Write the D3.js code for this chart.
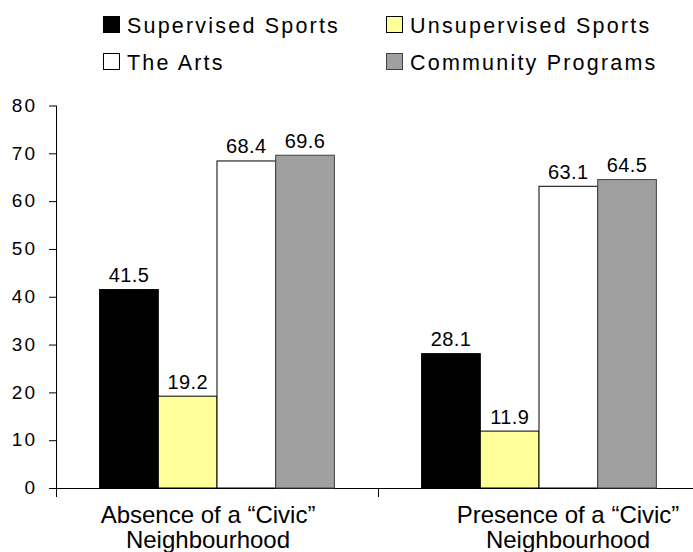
<!DOCTYPE html>
<html>
<head>
<meta charset="utf-8">
<script src="https://cdn.jsdelivr.net/npm/d3@7"></script>
<style>
  html, body { margin: 0; padding: 0; background: #fff; }
  svg { display: block; font-family: "Liberation Sans", Arial, sans-serif; }
</style>
</head>
<body>
<svg id="chart" width="693" height="552"></svg>
<script>
// ---- data ----
const categories = ["Absence of a \u201CCivic\u201D|Neighbourhood", "Presence of a \u201CCivic\u201D|Neighbourhood"];
const series = ["Supervised Sports", "Unsupervised Sports", "The Arts", "Community Programs"];
const supervisedSports = [41.5, 28.1];
const unsupervisedSports = [19.2, 11.9];
const theArts = [68.4, 63.1];
const communityPrograms = [69.6, 64.5];
const yTicks = [0, 10, 20, 30, 40, 50, 60, 70, 80];

// ---- styles ----
const fills = ["#000000", "#FFFF99", "#FFFFFF", "#A0A0A0"];
const strokes = ["#000000", "#000000", "#000000", "#404040"];
const labelShift = [-9, 29];

const values = [supervisedSports, unsupervisedSports, theArts, communityPrograms];
const svg = d3.select("#chart");

const x0 = d3.scaleBand().domain(categories).range([56, 700]).paddingInner(0).paddingOuter(0);
const x1 = d3.scaleBand().domain(series).range([0, x0.bandwidth()]).paddingInner(0).paddingOuter(0.743);
const y = d3.scaleLinear().domain([0, 80]).range([488, 105.5]);

// y axis
const yAxis = svg.append("g").attr("transform", "translate(56,0)")
  .call(d3.axisLeft(y).tickValues(yTicks).tickSize(7).tickPadding(12).tickFormat(d3.format("d")));
yAxis.select(".domain").attr("stroke", "#000").attr("d", `M0.5,${y(80)}V${y(0)}`);
yAxis.selectAll(".tick line").attr("stroke", "#000");
yAxis.selectAll("text").attr("font-size", 19).attr("letter-spacing", "2px").attr("fill", "#000")
  .attr("font-family", "Liberation Sans, Arial, sans-serif").attr("dy", "0.3em");

// x axis line + ticks at band edges
const xEdges = categories.map(c => x0(c)).concat([x0(categories[categories.length - 1]) + x0.bandwidth()]);
svg.append("line").attr("x1", 49).attr("x2", 700).attr("y1", y(0) + 0.5).attr("y2", y(0) + 0.5).attr("stroke", "#000");
svg.selectAll(".xtick").data(xEdges).enter().append("line")
  .attr("x1", d => Math.round(d) + 0.5).attr("x2", d => Math.round(d) + 0.5)
  .attr("y1", y(0)).attr("y2", y(0) + 9).attr("stroke", "#000");

// bars
const groups = svg.selectAll(".grp").data(categories).enter().append("g")
  .attr("transform", c => `translate(${x0(c)},0)`);
groups.each(function(c, ci) {
  const g = d3.select(this);
  series.forEach((s, si) => {
    const v = values[si][ci];
    g.append("rect")
      .attr("x", x1(s)).attr("width", x1.bandwidth())
      .attr("y", y(v)).attr("height", y(0) - y(v))
      .attr("fill", fills[si]).attr("stroke", strokes[si]).attr("stroke-width", 1);
    g.append("text")
      .attr("x", x1(s) + x1.bandwidth() / 2).attr("y", y(v) - 7.5)
      .attr("text-anchor", "middle").attr("font-size", 20).attr("letter-spacing", "0.4px")
      .text(v.toFixed(1));
  });
});

// category labels
categories.forEach((c, ci) => {
  const cx = x0(c) + x0.bandwidth() / 2 + labelShift[ci];
  const lines = c.split("|");
  const t = svg.append("text").attr("text-anchor", "middle").attr("font-size", 24);
  lines.forEach((ln, li) => {
    t.append("tspan").attr("x", cx).attr("y", 523 + li * 25).text(ln);
  });
});

// legend
const legX = [103, 386];
const legY = [16, 53];
series.forEach((s, i) => {
  const lx = legX[i % 2], ly = legY[Math.floor(i / 2)];
  svg.append("rect").attr("x", lx + 0.5).attr("y", ly + 0.5).attr("width", 16).attr("height", 16)
    .attr("fill", fills[i]).attr("stroke", strokes[i]);
  svg.append("text").attr("x", lx + 24).attr("y", ly + 17)
    .attr("font-size", 21.5).attr("letter-spacing", "2.2px").text(s);
});
</script>
</body>
</html>
